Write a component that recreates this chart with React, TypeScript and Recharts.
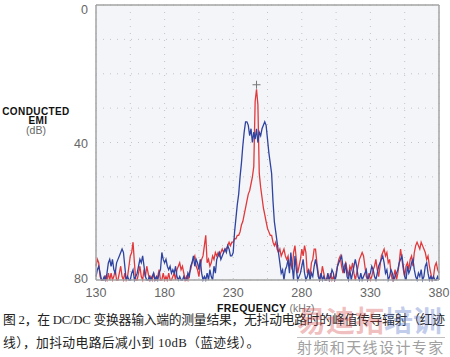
import { ComposedChart, Line, XAxis, YAxis, CartesianGrid, Scatter } from 'recharts'

// spectrum sampled every 1 kHz from 130 to 380 kHz, values in dB (0 top, 80 floor)
const startFreq = 130

const redTrace = [
  76, 74, 75, 79, 80, 80, 80, 79, 80, 78,
  80, 78, 80, 79, 77, 80, 80, 78, 76, 79,
  80, 78, 80, 79, 76, 73, 72, 69, 75, 80,
  80, 78, 76, 79, 80, 77, 79, 76, 78, 80,
  79, 80, 78, 80, 80, 79, 77, 80, 80, 78,
  80, 79, 80, 78, 80, 80, 79, 78, 80, 77,
  76, 75, 77, 76, 78, 80, 79, 80, 78, 77,
  75, 74, 73, 76, 77, 79, 76, 74, 73, 70,
  67, 75, 74, 76, 75, 73, 74, 72, 73, 72,
  73, 72, 71, 72, 71, 71, 70, 69, 70, 69,
  69, 68, 68, 67, 67, 66, 64, 63, 61, 59,
  57, 55, 54, 52, 50, 47, 28, 24.5, 29, 49,
  53, 56, 59, 61, 63, 65, 66, 67, 67, 69,
  70, 69, 71, 72, 71, 73, 72, 71, 73, 74,
  73, 76, 75, 77, 72, 70, 74, 78, 76, 74,
  71, 73, 70, 72, 78, 77, 79, 75, 74, 71,
  71, 75, 78, 80, 79, 76, 78, 80, 80, 79,
  80, 78, 80, 79, 80, 78, 76, 74, 73, 76,
  78, 76, 75, 77, 79, 76, 77, 75, 78, 80,
  78, 76, 74, 73, 72, 73, 76, 79, 80, 78,
  80, 79, 77, 76, 74, 77, 79, 76, 73, 72,
  71, 73, 72, 75, 74, 78, 80, 79, 77, 80,
  78, 75, 71, 74, 77, 79, 76, 75, 77, 74,
  73, 76, 72, 70, 69, 70, 71, 69, 70, 71,
  72, 74, 73, 76, 78, 80, 79, 76, 75, 77,
  78,
]

const blueTrace = [
  79, 77, 76, 78, 80, 80, 79, 80, 78, 75,
  74, 76, 74, 77, 78, 75, 74, 73, 72, 71,
  72, 76, 80, 79, 80, 80, 78, 77, 80, 79,
  78, 76, 74, 75, 73, 76, 79, 80, 80, 79,
  80, 79, 78, 80, 79, 80, 78, 77, 72, 74,
  75, 74, 76, 77, 76, 78, 77, 78, 76, 79,
  80, 79, 80, 80, 79, 80, 80, 78, 79, 76,
  75, 73, 76, 74, 75, 77, 74, 78, 80, 79,
  80, 78, 80, 77, 79, 80, 76, 78, 74, 73,
  72, 74, 73, 72, 71, 72, 70, 71, 73, 73,
  72, 66, 62, 58, 55, 50, 46, 41, 37, 34,
  34, 35, 38, 36, 40, 37, 39, 36, 40, 37,
  38, 36, 35, 34, 35, 39, 43, 46, 49, 57,
  63, 66, 69, 72, 75, 78, 77, 80, 77, 76,
  74, 78, 72, 76, 80, 73, 77, 80, 79, 78,
  76, 74, 78, 80, 79, 77, 80, 78, 79, 76,
  74, 76, 79, 80, 78, 80, 79, 80, 80, 78,
  80, 79, 77, 78, 80, 79, 76, 75, 74, 73,
  76, 78, 75, 79, 80, 77, 80, 78, 76, 74,
  76, 79, 80, 78, 80, 79, 78, 77, 80, 79,
  78, 76, 77, 79, 80, 78, 76, 75, 74, 73,
  75, 78, 77, 80, 79, 77, 78, 80, 79, 78,
  77, 75, 74, 73, 76, 79, 80, 76, 78, 77,
  75, 74, 77, 79, 80, 78, 79, 77, 80, 79,
  76, 75, 78, 80, 79, 80, 79, 80, 80, 79,
  80,
]

const gridFreqs = [130, 155, 180, 205, 230, 255, 280, 305, 330, 355, 380]
const freqLabels = [130, 180, 230, 280, 330, 380]
const gridLevels = [0, 10, 20, 30, 40, 50, 60, 70, 80]
const levelLabels = [0, 40, 80]
const peakMarker = [{ f: 247, v: 23.2 }]

// small inside ticks every 5 kHz / 2 dB
const minorFreqs = Array.from({ length: 51 }, (_, i) => 130 + i * 5)
const minorLevels = Array.from({ length: 41 }, (_, i) => i * 2)

const data = redTrace.map((r, i) => ({ f: startFreq + i, red: r, blue: blueTrace[i] }))

const sans = '"Liberation Sans", Arial, sans-serif'
const captionFont = '"Liberation Serif", "Noto Sans CJK SC", serif'
const borderColor = '#a3a3a3'

const FreqTick = (props: any) => {
  const { x, y, payload } = props
  if (!freqLabels.includes(payload.value)) return <g />
  return (
    <text x={x} y={y + 9} textAnchor="middle" fill="#666" fontSize={12.5} fontFamily={sans}>
      {payload.value}
    </text>
  )
}

const LevelTick = (props: any) => {
  const { x, y, payload } = props
  if (!levelLabels.includes(payload.value)) return <g />
  const shift = payload.value === 0 ? 9 : payload.value === 80 ? 3 : 5
  return (
    <text x={x} y={y + shift} textAnchor="end" fill="#666" fontSize={12.5} fontFamily={sans}>
      {payload.value}
    </text>
  )
}

const PlusMark = (props: any) => {
  const { cx, cy } = props
  if (cx == null || cy == null) return <g />
  return (
    <g stroke="#777" strokeWidth={1}>
      <line x1={cx - 4} y1={cy} x2={cx + 4} y2={cy} />
      <line x1={cx} y1={cy - 4} x2={cx} y2={cy + 4} />
    </g>
  )
}

export default function App() {
  return (
    <div
      style={{
        position: 'absolute',
        left: 0,
        top: 0,
        width: 450,
        height: 357,
        background: '#fff',
        overflow: 'hidden',
        fontFamily: sans,
      }}
    >
      <ComposedChart width={450} height={310} data={data} margin={{ top: 5, right: 11, left: 0, bottom: 0 }}>
        <CartesianGrid
          fill="#f4f5f8"
          stroke="#c4c4c4"
          strokeDasharray="1 6"
          strokeWidth={1}
        />
        <XAxis
          type="number"
          dataKey="f"
          domain={[130, 380]}
          ticks={gridFreqs}
          tick={<FreqTick />}
          tickLine={false}
          axisLine={false}
          height={30}
          interval={0}
        />
        <YAxis
          type="number"
          domain={[0, 80]}
          reversed
          ticks={gridLevels}
          tick={<LevelTick />}
          tickLine={false}
          axisLine={false}
          width={96}
          interval={0}
        />
        <XAxis xAxisId="top" type="number" dataKey="f" orientation="top" mirror domain={[130, 380]} ticks={minorFreqs} interval={0} tick={false} tickSize={3} tickLine={{ stroke: borderColor }} axisLine={{ stroke: borderColor, strokeWidth: 1.5 }} />
        <XAxis xAxisId="bottom" type="number" dataKey="f" orientation="bottom" mirror domain={[130, 380]} ticks={minorFreqs} interval={0} tick={false} tickSize={3} tickLine={{ stroke: borderColor }} axisLine={{ stroke: borderColor, strokeWidth: 1.5 }} />
        <YAxis yAxisId="left" type="number" orientation="left" mirror domain={[0, 80]} reversed ticks={minorLevels} interval={0} tick={false} tickSize={3} tickLine={{ stroke: borderColor }} axisLine={{ stroke: borderColor, strokeWidth: 1.5 }} />
        <YAxis yAxisId="right" type="number" orientation="right" mirror domain={[0, 80]} reversed ticks={minorLevels} interval={0} tick={false} tickSize={3} tickLine={{ stroke: borderColor }} axisLine={{ stroke: borderColor, strokeWidth: 1.5 }} />
        <Line dataKey="red" stroke="#e0393c" strokeWidth={1.3} dot={false} isAnimationActive={false} />
        <Line dataKey="blue" stroke="#2f43a0" strokeWidth={1.3} dot={false} isAnimationActive={false} />
        <Scatter data={peakMarker} dataKey="v" shape={<PlusMark />} isAnimationActive={false} />
      </ComposedChart>

      <div style={{ position: 'absolute', left: 0, width: 72, top: 107, textAlign: 'center', fontSize: 10, lineHeight: '10px', fontWeight: 700, letterSpacing: 0.4, color: '#111' }}>
        CONDUCTED
      </div>
      <div style={{ position: 'absolute', left: 2, width: 72, top: 116, textAlign: 'center', fontSize: 10, lineHeight: '10px', fontWeight: 700, letterSpacing: 0.4, color: '#111' }}>
        EMI
      </div>
      <div style={{ position: 'absolute', left: 0, width: 72, top: 125, textAlign: 'center', fontSize: 10.5, lineHeight: '10px', color: '#666' }}>
        (dB)
      </div>
      <div style={{ position: 'absolute', left: 217, top: 303, fontSize: 10.5, lineHeight: '11px', whiteSpace: 'nowrap' }}>
        <span style={{ fontWeight: 700, letterSpacing: 0.4, color: '#111' }}>FREQUENCY</span>
        <span style={{ color: '#777' }}> (kHz)</span>
      </div>

      <div style={{ position: 'absolute', left: 3, top: 312, fontSize: 12.8, lineHeight: '16px', letterSpacing: -0.25, color: '#222', whiteSpace: 'nowrap', fontFamily: captionFont }}>
        图 2，在 DC/DC 变换器输入端的测量结果，无抖动电路时的峰值传导辐射（红迹
      </div>
      <div style={{ position: 'absolute', left: 3, top: 335, fontSize: 12.8, lineHeight: '16px', letterSpacing: 0.35, color: '#222', whiteSpace: 'nowrap', fontFamily: captionFont }}>
        线），加抖动电路后减小到 10dB（蓝迹线）。
      </div>

      <div style={{ position: 'absolute', left: 297, top: 304, fontSize: 29, lineHeight: '31px', fontWeight: 700, whiteSpace: 'nowrap', fontFamily: '"Noto Sans CJK SC", sans-serif' }}>
        <span style={{ color: 'rgba(214, 70, 70, 0.35)' }}>易迪拓</span>
        <span style={{ color: 'rgba(80, 110, 200, 0.35)' }}>培训</span>
      </div>
      <div style={{ position: 'absolute', left: 297, top: 337, width: 148, height: 1, background: 'rgba(150,150,150,0.6)' }} />
      <div style={{ position: 'absolute', left: 297, top: 339, fontSize: 15, lineHeight: '16px', letterSpacing: 1.4, color: '#a0a0a0', whiteSpace: 'nowrap', fontFamily: '"Noto Sans CJK SC", sans-serif' }}>
        射频和天线设计专家
      </div>
    </div>
  )
}
